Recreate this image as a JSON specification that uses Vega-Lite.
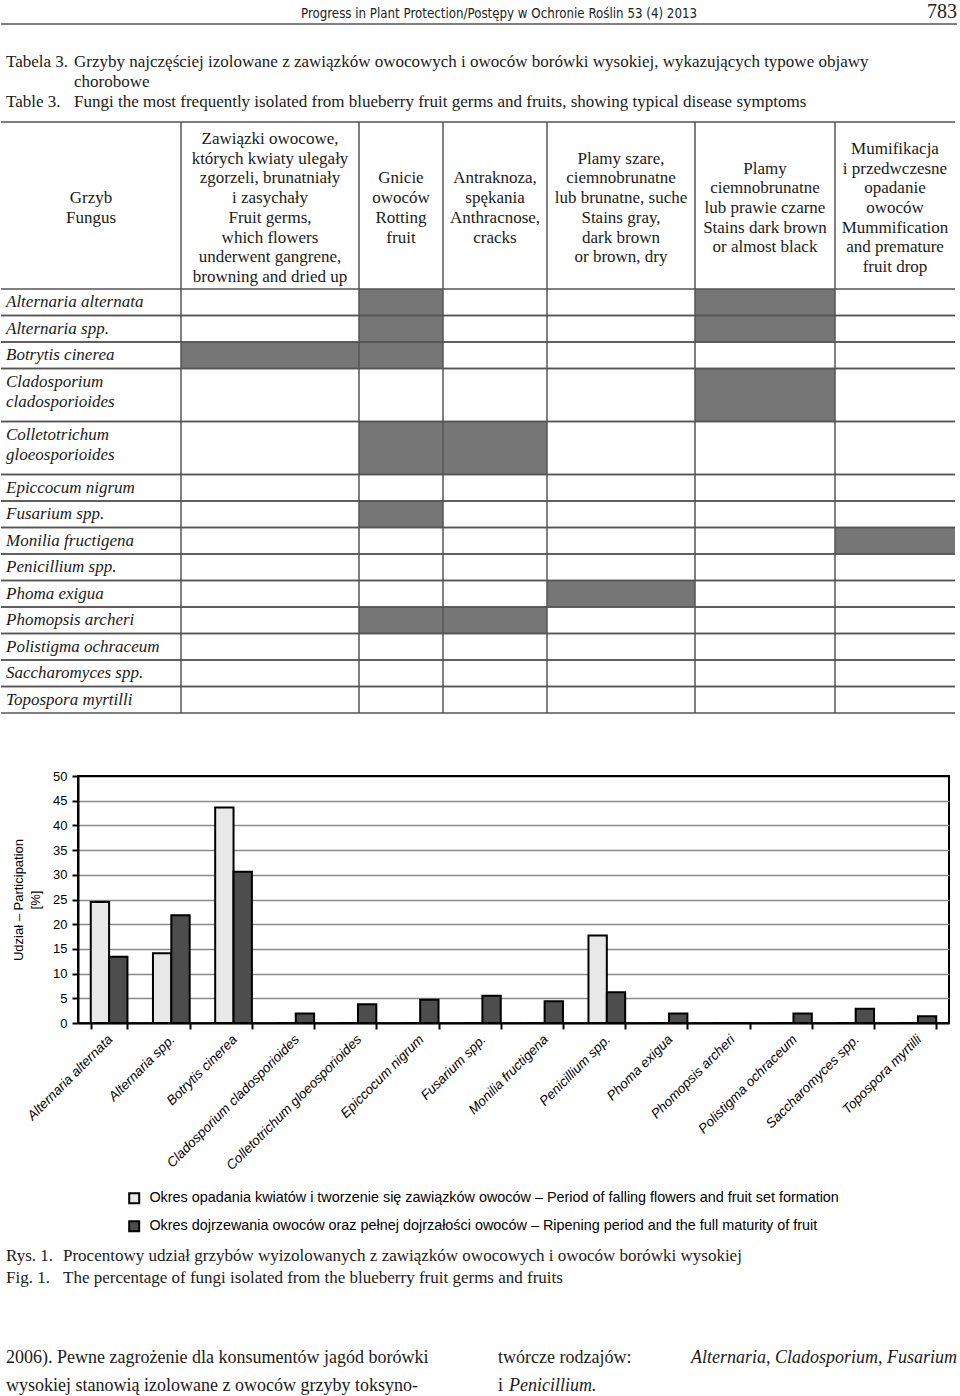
{
  "$schema": "https://vega.github.io/schema/vega-lite/v6.json",
  "padding": 0,
  "background": "white",
  "config": {"view": {"stroke": null}, "font": "Liberation Serif", "text": {"color": "#1a1a1a"}},
  "datasets": {
    "page": [{"t": "Progress in Plant Protection/Postępy w Ochronie Roślin 53 (4) 2013", "p": "783"}],
    "cap": [
      {"row": 1, "label": "Tabela 3.", "text": "Grzyby najczęściej izolowane z zawiązków owocowych i owoców borówki wysokiej, wykazujących typowe objawy"},
      {"row": 2, "label": "", "text": "chorobowe"},
      {"row": 3, "label": "Table 3.", "text": "Fungi the most frequently isolated from blueberry fruit germs and fruits, showing typical disease symptoms"}
    ],
    "hdr": [
      {"col": "c0", "n": 2, "lines": ["Grzyb", "Fungus"]},
      {"col": "c1", "n": 8, "lines": ["Zawiązki owocowe,", "których kwiaty ulegały", "zgorzeli, brunatniały", "i zasychały", "Fruit germs,", "which flowers", "underwent gangrene,", "browning and dried up"]},
      {"col": "c2", "n": 4, "lines": ["Gnicie", "owoców", "Rotting", "fruit"]},
      {"col": "c3", "n": 4, "lines": ["Antraknoza,", "spękania", "Anthracnose,", "cracks"]},
      {"col": "c4", "n": 6, "lines": ["Plamy szare,", "ciemnobrunatne", "lub brunatne, suche", "Stains gray,", "dark brown", "or brown, dry"]},
      {"col": "c5", "n": 5, "lines": ["Plamy", "ciemnobrunatne", "lub prawie czarne", "Stains dark brown", "or almost black"]},
      {"col": "c6", "n": 7, "lines": ["Mumifikacja", "i przedwczesne", "opadanie", "owoców", "Mummification", "and premature", "fruit drop"]}
    ],
    "fungi": [
      {"idx": 1, "name": "Alternaria alternata", "lines": 1, "c1": 0, "c2": 1, "c3": 0, "c4": 0, "c5": 1, "c6": 0},
      {"idx": 2, "name": "Alternaria spp.", "lines": 1, "c1": 0, "c2": 1, "c3": 0, "c4": 0, "c5": 1, "c6": 0},
      {"idx": 3, "name": "Botrytis cinerea", "lines": 1, "c1": 1, "c2": 1, "c3": 0, "c4": 0, "c5": 0, "c6": 0},
      {"idx": 4, "name": ["Cladosporium", "cladosporioides"], "lines": 2, "c1": 0, "c2": 0, "c3": 0, "c4": 0, "c5": 1, "c6": 0},
      {"idx": 5, "name": ["Colletotrichum", "gloeosporioides"], "lines": 2, "c1": 0, "c2": 1, "c3": 1, "c4": 0, "c5": 0, "c6": 0},
      {"idx": 6, "name": "Epiccocum nigrum", "lines": 1, "c1": 0, "c2": 0, "c3": 0, "c4": 0, "c5": 0, "c6": 0},
      {"idx": 7, "name": "Fusarium spp.", "lines": 1, "c1": 0, "c2": 1, "c3": 0, "c4": 0, "c5": 0, "c6": 0},
      {"idx": 8, "name": "Monilia fructigena", "lines": 1, "c1": 0, "c2": 0, "c3": 0, "c4": 0, "c5": 0, "c6": 1},
      {"idx": 9, "name": "Penicillium spp.", "lines": 1, "c1": 0, "c2": 0, "c3": 0, "c4": 0, "c5": 0, "c6": 0},
      {"idx": 10, "name": "Phoma exigua", "lines": 1, "c1": 0, "c2": 0, "c3": 0, "c4": 1, "c5": 0, "c6": 0},
      {"idx": 11, "name": "Phomopsis archeri", "lines": 1, "c1": 0, "c2": 1, "c3": 1, "c4": 0, "c5": 0, "c6": 0},
      {"idx": 12, "name": "Polistigma ochraceum", "lines": 1, "c1": 0, "c2": 0, "c3": 0, "c4": 0, "c5": 0, "c6": 0},
      {"idx": 13, "name": "Saccharomyces spp.", "lines": 1, "c1": 0, "c2": 0, "c3": 0, "c4": 0, "c5": 0, "c6": 0},
      {"idx": 14, "name": "Topospora myrtilli", "lines": 1, "c1": 0, "c2": 0, "c3": 0, "c4": 0, "c5": 0, "c6": 0}
    ],
    "bars": [
      {"fungus": "Alternaria alternata", "period": "P1", "value": 24.5},
      {"fungus": "Alternaria alternata", "period": "P2", "value": 13.4},
      {"fungus": "Alternaria spp.", "period": "P1", "value": 14.1},
      {"fungus": "Alternaria spp.", "period": "P2", "value": 21.8},
      {"fungus": "Botrytis cinerea", "period": "P1", "value": 43.6},
      {"fungus": "Botrytis cinerea", "period": "P2", "value": 30.6},
      {"fungus": "Cladosporium cladosporioides", "period": "P1", "value": 0},
      {"fungus": "Cladosporium cladosporioides", "period": "P2", "value": 1.9},
      {"fungus": "Colletotrichum gloeosporioides", "period": "P1", "value": 0},
      {"fungus": "Colletotrichum gloeosporioides", "period": "P2", "value": 3.8},
      {"fungus": "Epiccocum nigrum", "period": "P1", "value": 0},
      {"fungus": "Epiccocum nigrum", "period": "P2", "value": 4.7},
      {"fungus": "Fusarium spp.", "period": "P1", "value": 0},
      {"fungus": "Fusarium spp.", "period": "P2", "value": 5.5},
      {"fungus": "Monilia fructigena", "period": "P1", "value": 0},
      {"fungus": "Monilia fructigena", "period": "P2", "value": 4.4},
      {"fungus": "Penicillium spp.", "period": "P1", "value": 17.7},
      {"fungus": "Penicillium spp.", "period": "P2", "value": 6.2},
      {"fungus": "Phoma exigua", "period": "P1", "value": 0},
      {"fungus": "Phoma exigua", "period": "P2", "value": 1.9},
      {"fungus": "Phomopsis archeri", "period": "P1", "value": 0},
      {"fungus": "Phomopsis archeri", "period": "P2", "value": 0},
      {"fungus": "Polistigma ochraceum", "period": "P1", "value": 0},
      {"fungus": "Polistigma ochraceum", "period": "P2", "value": 1.9},
      {"fungus": "Saccharomyces spp.", "period": "P1", "value": 0},
      {"fungus": "Saccharomyces spp.", "period": "P2", "value": 2.9},
      {"fungus": "Topospora myrtilli", "period": "P1", "value": 0},
      {"fungus": "Topospora myrtilli", "period": "P2", "value": 1.35}
    ],
    "periods": [
      {"period": "P1", "label": "Okres opadania kwiatów i tworzenie się zawiązków owoców – Period of falling flowers and fruit set formation"},
      {"period": "P2", "label": "Okres dojrzewania owoców oraz pełnej dojrzałości owoców – Ripening period and the full maturity of fruit"}
    ],
    "fig": [
      {"row": 1, "label": "Rys. 1.", "text": "Procentowy udział grzybów wyizolowanych z zawiązków owocowych i owoców borówki wysokiej"},
      {"row": 2, "label": "Fig. 1.", "text": "The percentage of fungi isolated from the blueberry fruit germs and fruits"}
    ],
    "body": [
      {"row": 1, "left": "2006). Pewne zagrożenie dla konsumentów jagód borówki", "r1": "twórcze  rodzajów:", "r2": "Alternaria, Cladosporium, Fusarium"},
      {"row": 2, "left": "wysokiej stanowią izolowane z owoców grzyby toksyno-", "r1": "i", "r2": "Penicillium."}
    ]
  },
  "spacing": 0,
  "vconcat": [
    {
      "width": 956, "height": 24,
      "data": {"name": "page"},
      "layer": [
        {"mark": {"type": "text", "font": "'Liberation Sans Narrow', 'DejaVu Sans Condensed', sans-serif", "fontSize": 13.2, "baseline": "middle", "dx": 20, "dy": 2, "color": "#222"},
         "encoding": {"text": {"field": "t", "type": "nominal"}}},
        {"mark": {"type": "text", "font": "Liberation Serif", "fontSize": 20, "align": "right", "baseline": "middle", "color": "#222"},
         "encoding": {"text": {"field": "p", "type": "nominal"}, "x": {"datum": 1, "type": "quantitative", "scale": {"domain": [0, 1]}, "axis": null}}},
        {"mark": {"type": "rule", "color": "#555", "strokeWidth": 1.5},
         "encoding": {"x": {"datum": 0, "type": "quantitative", "scale": {"domain": [0, 1]}, "axis": null}, "x2": {"datum": 1},
                      "y": {"datum": 0, "type": "quantitative", "scale": {"domain": [0, 1]}, "axis": null}}}
      ]
    },
    {
      "spacing": 0, "bounds": "flush",
      "hconcat": [
        {"width": 68, "height": 96, "data": {"name": "cap"},
         "mark": {"type": "text", "align": "left", "baseline": "middle", "fontSize": 17, "dx": 5},
         "encoding": {"text": {"field": "label", "type": "nominal"},
                      "x": {"datum": 0, "type": "quantitative", "scale": {"domain": [0, 1]}, "axis": null},
                      "y": {"field": "row", "type": "ordinal", "scale": {"type": "band", "paddingInner": 0, "paddingOuter": 0.9, "align": 0.757}, "axis": null}}},
        {"width": 888, "height": 96, "data": {"name": "cap"},
         "mark": {"type": "text", "align": "left", "baseline": "middle", "fontSize": 17, "dx": 5},
         "encoding": {"text": {"field": "text", "type": "nominal"},
                      "x": {"datum": 0, "type": "quantitative", "scale": {"domain": [0, 1]}, "axis": null},
                      "y": {"field": "row", "type": "ordinal", "scale": {"type": "band", "paddingInner": 0, "paddingOuter": 0.9, "align": 0.757}, "axis": null}}}
      ]
    },
    {
      "columns": 7, "spacing": 0, "bounds": "flush", "align": "each",
      "concat": [
        {"width": 180, "height": 167, "data": {"name": "hdr"}, "transform": [{"filter": "datum.col == 'c0'"}],
         "resolve": {"scale": {"y": "independent"}},
         "layer": [
           {"mark": {"type": "text", "fontSize": 17, "lineHeight": 19.7, "baseline": "middle", "align": "center"}, "encoding": {"text": {"field": "lines", "type": "nominal"}, "y": {"field": "n", "type": "quantitative", "scale": {"domain": [1, 8], "range": [86, 17]}, "axis": null}}},
           {"mark": {"type": "rule", "color": "#555", "strokeWidth": 1.5}, "encoding": {"x": {"datum": 0, "type": "quantitative", "scale": {"domain": [0, 1]}, "axis": null}, "x2": {"datum": 1}, "y": {"datum": 1, "type": "quantitative", "scale": {"domain": [0, 1]}, "axis": null}}}
         ]},
        {"width": 178, "height": 167, "data": {"name": "hdr"}, "transform": [{"filter": "datum.col == 'c1'"}],
         "resolve": {"scale": {"y": "independent"}},
         "layer": [
           {"mark": {"type": "text", "fontSize": 17, "lineHeight": 19.7, "baseline": "middle", "align": "center"}, "encoding": {"text": {"field": "lines", "type": "nominal"}, "y": {"field": "n", "type": "quantitative", "scale": {"domain": [1, 8], "range": [86, 17]}, "axis": null}}},
           {"mark": {"type": "rule", "color": "#555", "strokeWidth": 1.5}, "encoding": {"x": {"datum": 0, "type": "quantitative", "scale": {"domain": [0, 1]}, "axis": null}, "x2": {"datum": 1}, "y": {"datum": 1, "type": "quantitative", "scale": {"domain": [0, 1]}, "axis": null}}},
           {"mark": {"type": "rule", "color": "#555", "strokeWidth": 1.5}, "encoding": {"x": {"datum": 0, "type": "quantitative", "scale": {"domain": [0, 1]}, "axis": null}, "y": {"datum": 0, "type": "quantitative", "scale": {"domain": [0, 1]}, "axis": null}, "y2": {"datum": 1}}}
         ]},
        {"width": 84, "height": 167, "data": {"name": "hdr"}, "transform": [{"filter": "datum.col == 'c2'"}],
         "resolve": {"scale": {"y": "independent"}},
         "layer": [
           {"mark": {"type": "text", "fontSize": 17, "lineHeight": 19.7, "baseline": "middle", "align": "center"}, "encoding": {"text": {"field": "lines", "type": "nominal"}, "y": {"field": "n", "type": "quantitative", "scale": {"domain": [1, 8], "range": [86, 17]}, "axis": null}}},
           {"mark": {"type": "rule", "color": "#555", "strokeWidth": 1.5}, "encoding": {"x": {"datum": 0, "type": "quantitative", "scale": {"domain": [0, 1]}, "axis": null}, "x2": {"datum": 1}, "y": {"datum": 1, "type": "quantitative", "scale": {"domain": [0, 1]}, "axis": null}}},
           {"mark": {"type": "rule", "color": "#555", "strokeWidth": 1.5}, "encoding": {"x": {"datum": 0, "type": "quantitative", "scale": {"domain": [0, 1]}, "axis": null}, "y": {"datum": 0, "type": "quantitative", "scale": {"domain": [0, 1]}, "axis": null}, "y2": {"datum": 1}}}
         ]},
        {"width": 104, "height": 167, "data": {"name": "hdr"}, "transform": [{"filter": "datum.col == 'c3'"}],
         "resolve": {"scale": {"y": "independent"}},
         "layer": [
           {"mark": {"type": "text", "fontSize": 17, "lineHeight": 19.7, "baseline": "middle", "align": "center"}, "encoding": {"text": {"field": "lines", "type": "nominal"}, "y": {"field": "n", "type": "quantitative", "scale": {"domain": [1, 8], "range": [86, 17]}, "axis": null}}},
           {"mark": {"type": "rule", "color": "#555", "strokeWidth": 1.5}, "encoding": {"x": {"datum": 0, "type": "quantitative", "scale": {"domain": [0, 1]}, "axis": null}, "x2": {"datum": 1}, "y": {"datum": 1, "type": "quantitative", "scale": {"domain": [0, 1]}, "axis": null}}},
           {"mark": {"type": "rule", "color": "#555", "strokeWidth": 1.5}, "encoding": {"x": {"datum": 0, "type": "quantitative", "scale": {"domain": [0, 1]}, "axis": null}, "y": {"datum": 0, "type": "quantitative", "scale": {"domain": [0, 1]}, "axis": null}, "y2": {"datum": 1}}}
         ]},
        {"width": 148, "height": 167, "data": {"name": "hdr"}, "transform": [{"filter": "datum.col == 'c4'"}],
         "resolve": {"scale": {"y": "independent"}},
         "layer": [
           {"mark": {"type": "text", "fontSize": 17, "lineHeight": 19.7, "baseline": "middle", "align": "center"}, "encoding": {"text": {"field": "lines", "type": "nominal"}, "y": {"field": "n", "type": "quantitative", "scale": {"domain": [1, 8], "range": [86, 17]}, "axis": null}}},
           {"mark": {"type": "rule", "color": "#555", "strokeWidth": 1.5}, "encoding": {"x": {"datum": 0, "type": "quantitative", "scale": {"domain": [0, 1]}, "axis": null}, "x2": {"datum": 1}, "y": {"datum": 1, "type": "quantitative", "scale": {"domain": [0, 1]}, "axis": null}}},
           {"mark": {"type": "rule", "color": "#555", "strokeWidth": 1.5}, "encoding": {"x": {"datum": 0, "type": "quantitative", "scale": {"domain": [0, 1]}, "axis": null}, "y": {"datum": 0, "type": "quantitative", "scale": {"domain": [0, 1]}, "axis": null}, "y2": {"datum": 1}}}
         ]},
        {"width": 140, "height": 167, "data": {"name": "hdr"}, "transform": [{"filter": "datum.col == 'c5'"}],
         "resolve": {"scale": {"y": "independent"}},
         "layer": [
           {"mark": {"type": "text", "fontSize": 17, "lineHeight": 19.7, "baseline": "middle", "align": "center"}, "encoding": {"text": {"field": "lines", "type": "nominal"}, "y": {"field": "n", "type": "quantitative", "scale": {"domain": [1, 8], "range": [86, 17]}, "axis": null}}},
           {"mark": {"type": "rule", "color": "#555", "strokeWidth": 1.5}, "encoding": {"x": {"datum": 0, "type": "quantitative", "scale": {"domain": [0, 1]}, "axis": null}, "x2": {"datum": 1}, "y": {"datum": 1, "type": "quantitative", "scale": {"domain": [0, 1]}, "axis": null}}},
           {"mark": {"type": "rule", "color": "#555", "strokeWidth": 1.5}, "encoding": {"x": {"datum": 0, "type": "quantitative", "scale": {"domain": [0, 1]}, "axis": null}, "y": {"datum": 0, "type": "quantitative", "scale": {"domain": [0, 1]}, "axis": null}, "y2": {"datum": 1}}}
         ]},
        {"width": 120, "height": 167, "data": {"name": "hdr"}, "transform": [{"filter": "datum.col == 'c6'"}],
         "resolve": {"scale": {"y": "independent"}},
         "layer": [
           {"mark": {"type": "text", "fontSize": 17, "lineHeight": 19.7, "baseline": "middle", "align": "center"}, "encoding": {"text": {"field": "lines", "type": "nominal"}, "y": {"field": "n", "type": "quantitative", "scale": {"domain": [1, 8], "range": [86, 17]}, "axis": null}}},
           {"mark": {"type": "rule", "color": "#555", "strokeWidth": 1.5}, "encoding": {"x": {"datum": 0, "type": "quantitative", "scale": {"domain": [0, 1]}, "axis": null}, "x2": {"datum": 1}, "y": {"datum": 1, "type": "quantitative", "scale": {"domain": [0, 1]}, "axis": null}}},
           {"mark": {"type": "rule", "color": "#555", "strokeWidth": 1.5}, "encoding": {"x": {"datum": 0, "type": "quantitative", "scale": {"domain": [0, 1]}, "axis": null}, "y": {"datum": 0, "type": "quantitative", "scale": {"domain": [0, 1]}, "axis": null}, "y2": {"datum": 1}}}
         ]},
        {"width": 180, "height": 424, "data": {"name": "fungi"},
         "transform": [{"stack": "lines", "groupby": [], "sort": [{"field": "idx", "order": "ascending"}], "as": ["y0", "y1"]}],
         "layer": [
           {"mark": {"type": "rule", "color": "#555", "strokeWidth": 1.5}, "encoding": {"x": {"datum": 0, "type": "quantitative", "scale": {"domain": [0, 1]}, "axis": null}, "x2": {"datum": 1}, "y": {"field": "y1", "type": "quantitative", "scale": {"domain": [0, 16], "reverse": true}, "axis": null}}},
           {"mark": {"type": "rule", "color": "#555", "strokeWidth": 1.5}, "encoding": {"x": {"datum": 0, "type": "quantitative", "scale": {"domain": [0, 1]}, "axis": null}, "x2": {"datum": 1}, "y": {"field": "y0", "type": "quantitative", "scale": {"domain": [0, 16], "reverse": true}, "axis": null}}},
           {"mark": {"type": "text", "fontStyle": "italic", "fontSize": 17, "lineHeight": 20, "align": "left", "baseline": "top", "dx": 5, "dy": 5},
            "encoding": {"text": {"field": "name", "type": "nominal"}, "x": {"datum": 0, "type": "quantitative", "scale": {"domain": [0, 1]}, "axis": null}, "y": {"field": "y0", "type": "quantitative", "scale": {"domain": [0, 16], "reverse": true}, "axis": null}}}
         ]},
        {"width": 178, "height": 424, "data": {"name": "fungi"},
         "transform": [{"stack": "lines", "groupby": [], "sort": [{"field": "idx", "order": "ascending"}], "as": ["y0", "y1"]}],
         "layer": [
           {"transform": [{"filter": "datum.c1 == 1"}], "mark": {"type": "rect", "fill": "#767676"}, "encoding": {"x": {"datum": 0, "type": "quantitative", "scale": {"domain": [0, 1]}, "axis": null}, "x2": {"datum": 1}, "y": {"field": "y0", "type": "quantitative", "scale": {"domain": [0, 16], "reverse": true}, "axis": null}, "y2": {"field": "y1"}}},
           {"mark": {"type": "rule", "color": "#555", "strokeWidth": 1.5}, "encoding": {"x": {"datum": 0, "type": "quantitative", "scale": {"domain": [0, 1]}, "axis": null}, "x2": {"datum": 1}, "y": {"field": "y1", "type": "quantitative", "scale": {"domain": [0, 16], "reverse": true}, "axis": null}}},
           {"mark": {"type": "rule", "color": "#555", "strokeWidth": 1.5}, "encoding": {"x": {"datum": 0, "type": "quantitative", "scale": {"domain": [0, 1]}, "axis": null}, "x2": {"datum": 1}, "y": {"field": "y0", "type": "quantitative", "scale": {"domain": [0, 16], "reverse": true}, "axis": null}}},
           {"transform": [{"filter": "datum.idx == 1"}], "mark": {"type": "rule", "color": "#555", "strokeWidth": 1.5}, "encoding": {"x": {"datum": 0, "type": "quantitative", "scale": {"domain": [0, 1]}, "axis": null}, "y": {"datum": 0, "type": "quantitative", "scale": {"domain": [0, 16], "reverse": true}, "axis": null}, "y2": {"datum": 16}}}
         ]},
        {"width": 84, "height": 424, "data": {"name": "fungi"},
         "transform": [{"stack": "lines", "groupby": [], "sort": [{"field": "idx", "order": "ascending"}], "as": ["y0", "y1"]}],
         "layer": [
           {"transform": [{"filter": "datum.c2 == 1"}], "mark": {"type": "rect", "fill": "#767676"}, "encoding": {"x": {"datum": 0, "type": "quantitative", "scale": {"domain": [0, 1]}, "axis": null}, "x2": {"datum": 1}, "y": {"field": "y0", "type": "quantitative", "scale": {"domain": [0, 16], "reverse": true}, "axis": null}, "y2": {"field": "y1"}}},
           {"mark": {"type": "rule", "color": "#555", "strokeWidth": 1.5}, "encoding": {"x": {"datum": 0, "type": "quantitative", "scale": {"domain": [0, 1]}, "axis": null}, "x2": {"datum": 1}, "y": {"field": "y1", "type": "quantitative", "scale": {"domain": [0, 16], "reverse": true}, "axis": null}}},
           {"mark": {"type": "rule", "color": "#555", "strokeWidth": 1.5}, "encoding": {"x": {"datum": 0, "type": "quantitative", "scale": {"domain": [0, 1]}, "axis": null}, "x2": {"datum": 1}, "y": {"field": "y0", "type": "quantitative", "scale": {"domain": [0, 16], "reverse": true}, "axis": null}}},
           {"transform": [{"filter": "datum.idx == 1"}], "mark": {"type": "rule", "color": "#555", "strokeWidth": 1.5}, "encoding": {"x": {"datum": 0, "type": "quantitative", "scale": {"domain": [0, 1]}, "axis": null}, "y": {"datum": 0, "type": "quantitative", "scale": {"domain": [0, 16], "reverse": true}, "axis": null}, "y2": {"datum": 16}}}
         ]},
        {"width": 104, "height": 424, "data": {"name": "fungi"},
         "transform": [{"stack": "lines", "groupby": [], "sort": [{"field": "idx", "order": "ascending"}], "as": ["y0", "y1"]}],
         "layer": [
           {"transform": [{"filter": "datum.c3 == 1"}], "mark": {"type": "rect", "fill": "#767676"}, "encoding": {"x": {"datum": 0, "type": "quantitative", "scale": {"domain": [0, 1]}, "axis": null}, "x2": {"datum": 1}, "y": {"field": "y0", "type": "quantitative", "scale": {"domain": [0, 16], "reverse": true}, "axis": null}, "y2": {"field": "y1"}}},
           {"mark": {"type": "rule", "color": "#555", "strokeWidth": 1.5}, "encoding": {"x": {"datum": 0, "type": "quantitative", "scale": {"domain": [0, 1]}, "axis": null}, "x2": {"datum": 1}, "y": {"field": "y1", "type": "quantitative", "scale": {"domain": [0, 16], "reverse": true}, "axis": null}}},
           {"mark": {"type": "rule", "color": "#555", "strokeWidth": 1.5}, "encoding": {"x": {"datum": 0, "type": "quantitative", "scale": {"domain": [0, 1]}, "axis": null}, "x2": {"datum": 1}, "y": {"field": "y0", "type": "quantitative", "scale": {"domain": [0, 16], "reverse": true}, "axis": null}}},
           {"transform": [{"filter": "datum.idx == 1"}], "mark": {"type": "rule", "color": "#555", "strokeWidth": 1.5}, "encoding": {"x": {"datum": 0, "type": "quantitative", "scale": {"domain": [0, 1]}, "axis": null}, "y": {"datum": 0, "type": "quantitative", "scale": {"domain": [0, 16], "reverse": true}, "axis": null}, "y2": {"datum": 16}}}
         ]},
        {"width": 148, "height": 424, "data": {"name": "fungi"},
         "transform": [{"stack": "lines", "groupby": [], "sort": [{"field": "idx", "order": "ascending"}], "as": ["y0", "y1"]}],
         "layer": [
           {"transform": [{"filter": "datum.c4 == 1"}], "mark": {"type": "rect", "fill": "#767676"}, "encoding": {"x": {"datum": 0, "type": "quantitative", "scale": {"domain": [0, 1]}, "axis": null}, "x2": {"datum": 1}, "y": {"field": "y0", "type": "quantitative", "scale": {"domain": [0, 16], "reverse": true}, "axis": null}, "y2": {"field": "y1"}}},
           {"mark": {"type": "rule", "color": "#555", "strokeWidth": 1.5}, "encoding": {"x": {"datum": 0, "type": "quantitative", "scale": {"domain": [0, 1]}, "axis": null}, "x2": {"datum": 1}, "y": {"field": "y1", "type": "quantitative", "scale": {"domain": [0, 16], "reverse": true}, "axis": null}}},
           {"mark": {"type": "rule", "color": "#555", "strokeWidth": 1.5}, "encoding": {"x": {"datum": 0, "type": "quantitative", "scale": {"domain": [0, 1]}, "axis": null}, "x2": {"datum": 1}, "y": {"field": "y0", "type": "quantitative", "scale": {"domain": [0, 16], "reverse": true}, "axis": null}}},
           {"transform": [{"filter": "datum.idx == 1"}], "mark": {"type": "rule", "color": "#555", "strokeWidth": 1.5}, "encoding": {"x": {"datum": 0, "type": "quantitative", "scale": {"domain": [0, 1]}, "axis": null}, "y": {"datum": 0, "type": "quantitative", "scale": {"domain": [0, 16], "reverse": true}, "axis": null}, "y2": {"datum": 16}}}
         ]},
        {"width": 140, "height": 424, "data": {"name": "fungi"},
         "transform": [{"stack": "lines", "groupby": [], "sort": [{"field": "idx", "order": "ascending"}], "as": ["y0", "y1"]}],
         "layer": [
           {"transform": [{"filter": "datum.c5 == 1"}], "mark": {"type": "rect", "fill": "#767676"}, "encoding": {"x": {"datum": 0, "type": "quantitative", "scale": {"domain": [0, 1]}, "axis": null}, "x2": {"datum": 1}, "y": {"field": "y0", "type": "quantitative", "scale": {"domain": [0, 16], "reverse": true}, "axis": null}, "y2": {"field": "y1"}}},
           {"mark": {"type": "rule", "color": "#555", "strokeWidth": 1.5}, "encoding": {"x": {"datum": 0, "type": "quantitative", "scale": {"domain": [0, 1]}, "axis": null}, "x2": {"datum": 1}, "y": {"field": "y1", "type": "quantitative", "scale": {"domain": [0, 16], "reverse": true}, "axis": null}}},
           {"mark": {"type": "rule", "color": "#555", "strokeWidth": 1.5}, "encoding": {"x": {"datum": 0, "type": "quantitative", "scale": {"domain": [0, 1]}, "axis": null}, "x2": {"datum": 1}, "y": {"field": "y0", "type": "quantitative", "scale": {"domain": [0, 16], "reverse": true}, "axis": null}}},
           {"transform": [{"filter": "datum.idx == 1"}], "mark": {"type": "rule", "color": "#555", "strokeWidth": 1.5}, "encoding": {"x": {"datum": 0, "type": "quantitative", "scale": {"domain": [0, 1]}, "axis": null}, "y": {"datum": 0, "type": "quantitative", "scale": {"domain": [0, 16], "reverse": true}, "axis": null}, "y2": {"datum": 16}}}
         ]},
        {"width": 120, "height": 424, "data": {"name": "fungi"},
         "transform": [{"stack": "lines", "groupby": [], "sort": [{"field": "idx", "order": "ascending"}], "as": ["y0", "y1"]}],
         "layer": [
           {"transform": [{"filter": "datum.c6 == 1"}], "mark": {"type": "rect", "fill": "#767676"}, "encoding": {"x": {"datum": 0, "type": "quantitative", "scale": {"domain": [0, 1]}, "axis": null}, "x2": {"datum": 1}, "y": {"field": "y0", "type": "quantitative", "scale": {"domain": [0, 16], "reverse": true}, "axis": null}, "y2": {"field": "y1"}}},
           {"mark": {"type": "rule", "color": "#555", "strokeWidth": 1.5}, "encoding": {"x": {"datum": 0, "type": "quantitative", "scale": {"domain": [0, 1]}, "axis": null}, "x2": {"datum": 1}, "y": {"field": "y1", "type": "quantitative", "scale": {"domain": [0, 16], "reverse": true}, "axis": null}}},
           {"mark": {"type": "rule", "color": "#555", "strokeWidth": 1.5}, "encoding": {"x": {"datum": 0, "type": "quantitative", "scale": {"domain": [0, 1]}, "axis": null}, "x2": {"datum": 1}, "y": {"field": "y0", "type": "quantitative", "scale": {"domain": [0, 16], "reverse": true}, "axis": null}}},
           {"transform": [{"filter": "datum.idx == 1"}], "mark": {"type": "rule", "color": "#555", "strokeWidth": 1.5}, "encoding": {"x": {"datum": 0, "type": "quantitative", "scale": {"domain": [0, 1]}, "axis": null}, "y": {"datum": 0, "type": "quantitative", "scale": {"domain": [0, 16], "reverse": true}, "axis": null}, "y2": {"datum": 16}}}
         ]}
      ]
    },
    {"width": 10, "height": 55, "data": {"values": [{"t": ""}]}, "mark": {"type": "text"}, "encoding": {"text": {"field": "t", "type": "nominal"}}},
    {
      "spacing": 0, "bounds": "flush",
      "hconcat": [
        {"width": 77, "height": 247, "data": {"values": [{"t": ""}]}, "mark": {"type": "text"}, "encoding": {"text": {"field": "t", "type": "nominal"}}},
        {
          "width": 871, "height": 247,
          "view": {"stroke": "black", "strokeWidth": 2},
          "data": {"name": "bars"},
          "transform": [{"lookup": "period", "from": {"data": {"name": "periods"}, "key": "period", "fields": ["label"]}}],
          "mark": {"type": "bar", "stroke": "black", "strokeWidth": 2},
          "encoding": {
            "x": {"field": "fungus", "type": "nominal", "sort": null,
                  "scale": {"paddingInner": 0.41, "paddingOuter": 0.205},
                  "axis": {"title": null, "labelAngle": -45, "labelFont": "Liberation Sans", "labelFontStyle": "italic", "labelFontSize": 13.5, "labelColor": "black", "labelLimit": 0, "labelPadding": 3, "labelOffset": -4,
                           "tickBand": "extent", "tickSize": 6, "tickColor": "black", "tickWidth": 2, "domainColor": "black", "domainWidth": 2}},
            "xOffset": {"field": "label", "type": "nominal", "sort": null},
            "y": {"field": "value", "type": "quantitative", "scale": {"domain": [0, 50]},
                  "axis": {"title": ["Udział – Participation", "[%]"], "titleFont": "Liberation Sans", "titleFontSize": 13, "titleFontWeight": "normal", "titleColor": "black", "titlePadding": 10, "titleLineHeight": 17,
                           "values": [0, 5, 10, 15, 20, 25, 30, 35, 40, 45, 50],
                           "labelFont": "Liberation Sans", "labelFontSize": 13, "labelColor": "black", "labelPadding": 5,
                           "tickSize": 6, "tickColor": "black", "tickWidth": 2, "domainColor": "black", "domainWidth": 2,
                           "grid": true, "gridColor": {"condition": {"test": "datum.value == 50", "value": "black"}, "value": "#8a8a8a"}, "gridWidth": 1.5}},
            "fill": {"field": "label", "type": "nominal", "sort": null,
                     "scale": {"range": ["#e8e8e8", "#4d4d4d"]},
                     "legend": {"orient": "none", "legendX": 126, "legendY": 1191, "title": null, "direction": "vertical",
                                "symbolType": "square", "symbolSize": 100, "symbolStrokeColor": "black", "symbolStrokeWidth": 2,
                                "labelFont": "Liberation Sans", "labelFontSize": 14.4, "labelColor": "black", "labelLimit": 0, "rowPadding": 9, "labelOffset": 8}}
          }
        }
      ]
    },
    {"width": 10, "height": 71, "data": {"values": [{"t": ""}]}, "mark": {"type": "text"}, "encoding": {"text": {"field": "t", "type": "nominal"}}},
    {
      "spacing": 0, "bounds": "flush",
      "hconcat": [
        {"width": 57, "height": 44, "data": {"name": "fig"},
         "mark": {"type": "text", "align": "left", "baseline": "middle", "fontSize": 17, "dx": 5},
         "encoding": {"text": {"field": "label", "type": "nominal"},
                      "x": {"datum": 0, "type": "quantitative", "scale": {"domain": [0, 1]}, "axis": null},
                      "y": {"field": "row", "type": "ordinal", "scale": {"type": "band", "paddingInner": 0, "paddingOuter": 0}, "axis": null}}},
        {"width": 899, "height": 44, "data": {"name": "fig"},
         "mark": {"type": "text", "align": "left", "baseline": "middle", "fontSize": 17, "dx": 5},
         "encoding": {"text": {"field": "text", "type": "nominal"},
                      "x": {"datum": 0, "type": "quantitative", "scale": {"domain": [0, 1]}, "axis": null},
                      "y": {"field": "row", "type": "ordinal", "scale": {"type": "band", "paddingInner": 0, "paddingOuter": 0}, "axis": null}}}
      ]
    },
    {
      "spacing": 0, "bounds": "flush",
      "hconcat": [
        {"width": 492, "height": 111, "data": {"name": "body"},
         "mark": {"type": "text", "align": "left", "baseline": "middle", "fontSize": 18, "dx": 5},
         "encoding": {"text": {"field": "left", "type": "nominal"},
                      "x": {"datum": 0, "type": "quantitative", "scale": {"domain": [0, 1]}, "axis": null},
                      "y": {"field": "row", "type": "ordinal", "scale": {"type": "band", "paddingInner": 0, "paddingOuter": 1.424, "align": 1}, "axis": null}}},
        {"width": 464, "height": 111, "data": {"name": "body"},
         "layer": [
           {"mark": {"type": "text", "align": "left", "baseline": "middle", "fontSize": 18, "dx": 5},
            "encoding": {"text": {"field": "r1", "type": "nominal"},
                         "x": {"datum": 0, "type": "quantitative", "scale": {"domain": [0, 1]}, "axis": null},
                         "y": {"field": "row", "type": "ordinal", "scale": {"type": "band", "paddingInner": 0, "paddingOuter": 1.424, "align": 1}, "axis": null}}},
           {"transform": [{"filter": "datum.row == 1"}],
            "mark": {"type": "text", "align": "right", "baseline": "middle", "fontSize": 18, "fontStyle": "italic"},
            "encoding": {"text": {"field": "r2", "type": "nominal"},
                         "x": {"datum": 1, "type": "quantitative", "scale": {"domain": [0, 1]}, "axis": null},
                         "y": {"field": "row", "type": "ordinal", "scale": {"type": "band", "paddingInner": 0, "paddingOuter": 1.424, "align": 1}, "axis": null}}},
           {"transform": [{"filter": "datum.row == 2"}],
            "mark": {"type": "text", "align": "left", "baseline": "middle", "fontSize": 18, "fontStyle": "italic", "dx": 16},
            "encoding": {"text": {"field": "r2", "type": "nominal"},
                         "x": {"datum": 0, "type": "quantitative", "scale": {"domain": [0, 1]}, "axis": null},
                         "y": {"field": "row", "type": "ordinal", "scale": {"type": "band", "paddingInner": 0, "paddingOuter": 1.424, "align": 1}, "axis": null}}}
         ]}
      ]
    }
  ]
}
